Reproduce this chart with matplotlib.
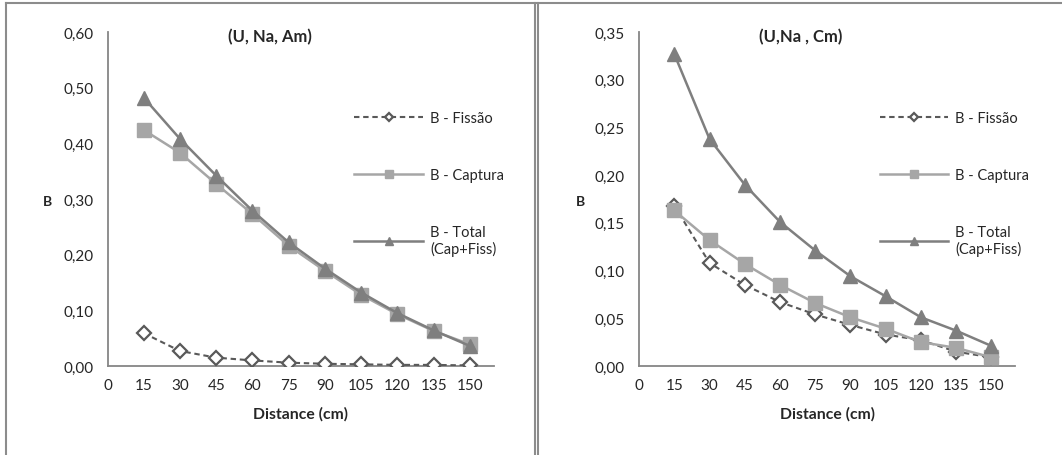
import matplotlib
matplotlib.use('Agg')
import matplotlib.pyplot as plt
from matplotlib.lines import Line2D

plt.rcParams['font.family'] = ['Lato', 'DejaVu Sans']

# Distances (cm)
distance = [15, 30, 45, 60, 75, 90, 105, 120, 135, 150]

# (U, Na, Am)
am_fissao = [0.059, 0.027, 0.015, 0.010, 0.006, 0.004, 0.003, 0.002, 0.002, 0.001]
am_captura = [0.424, 0.383, 0.327, 0.273, 0.216, 0.171, 0.128, 0.093, 0.063, 0.039]
am_total = [0.482, 0.408, 0.342, 0.279, 0.222, 0.175, 0.132, 0.095, 0.064, 0.036]

# (U,Na , Cm)
cm_fissao = [0.168, 0.108, 0.085, 0.067, 0.054, 0.043, 0.033, 0.027, 0.015, 0.009]
cm_captura = [0.163, 0.132, 0.107, 0.085, 0.066, 0.051, 0.039, 0.025, 0.019, 0.009]
cm_total = [0.327, 0.238, 0.190, 0.151, 0.121, 0.094, 0.073, 0.051, 0.037, 0.021]

labels = ['B - Fissão', 'B - Captura', 'B - Total\n(Cap+Fiss)']
x_ticks = [0, 15, 30, 45, 60, 75, 90, 105, 120, 135, 150]

W, H = 1062, 456
fig = plt.figure(figsize=(W / 100, H / 100), dpi=100)

text_color = '#262626'
axis_color = '#868686'
border_color = '#8c8c8c'


def px(x0, y0, x1, y1):
    # pixel box -> figure fraction rect
    return [x0 / W, 1 - y1 / H, (x1 - x0) / W, (y1 - y0) / H]


def draw_panel(rect, fiss, capt, tot, ymax, ystep, title, title_x):
    ax = fig.add_axes(rect)
    ax.plot(distance, fiss, color='#595959', lw=1.5, dashes=(2.6, 1.8),
            marker='D', ms=7.5, mfc='white', mec='#595959', mew=1.6,
            label=labels[0], zorder=3)
    ax.plot(distance, capt, color='#a6a6a6', lw=1.8, marker='s', ms=10,
            mfc='#a6a6a6', mec='#a6a6a6', label=labels[1], zorder=4)
    ax.plot(distance, tot, color='#7f7f7f', lw=1.8, marker='^', ms=10,
            mfc='#7f7f7f', mec='#7f7f7f', label=labels[2], zorder=5)

    ax.set_xlim(0, 160)
    ax.set_ylim(0, ymax)
    ax.set_xticks(x_ticks)
    yt = [i * ystep for i in range(int(round(ymax / ystep)) + 1)]
    ax.set_yticks(yt)
    ax.set_yticklabels([f'{v:.2f}'.replace('.', ',') for v in yt])
    ax.tick_params(length=0, labelsize=11, colors=text_color)
    ax.tick_params(axis='y', pad=10)
    ax.tick_params(axis='x', pad=9)
    for s in ['top', 'right']:
        ax.spines[s].set_visible(False)
    for s in ['left', 'bottom']:
        ax.spines[s].set_color(axis_color)
        ax.spines[s].set_linewidth(1.3)
    ax.set_facecolor('none')

    ax.set_xlabel('Distance (cm)', fontsize=11.3, fontweight='bold', color=text_color)
    ax.xaxis.set_label_coords(0.5, -0.143)
    ax.xaxis.label.set_va('center')
    ax.set_ylabel('B', fontsize=10, fontweight='bold', rotation=0, color=text_color)
    ax.yaxis.set_label_coords(-0.155, 0.494)
    ax.yaxis.label.set_va('center')

    ax.legend(loc='upper left', bbox_to_anchor=(0.605, 0.803), frameon=False,
              fontsize=10.5, handlelength=4.7, handletextpad=0.5,
              labelspacing=2.95, markerscale=0.6, labelcolor=text_color)
    fig.text(title_x / W, 1 - 37 / H, title, ha='center', va='center',
             fontsize=12, fontweight='bold', color=text_color)
    return ax


draw_panel(px(107.5, 33, 494, 367), am_fissao, am_captura, am_total,
           0.60, 0.10, '(U, Na, Am)', 270)
draw_panel(px(639, 33, 1015, 367), cm_fissao, cm_captura, cm_total,
           0.35, 0.05, '(U,Na , Cm)', 801)

# panel frames
def fline(xs, ys):
    fig.add_artist(Line2D([x / W for x in xs], [1 - y / H for y in ys],
                          color=border_color, lw=1.5))

fline([5.5, 5.5], [4, 456])
fline([5.5, 1062], [4, 4])
fline([534.5, 534.5], [4, 456])
fline([537.7, 537.7], [4, 456])

fig.savefig('out.png', dpi=100, facecolor='white')
